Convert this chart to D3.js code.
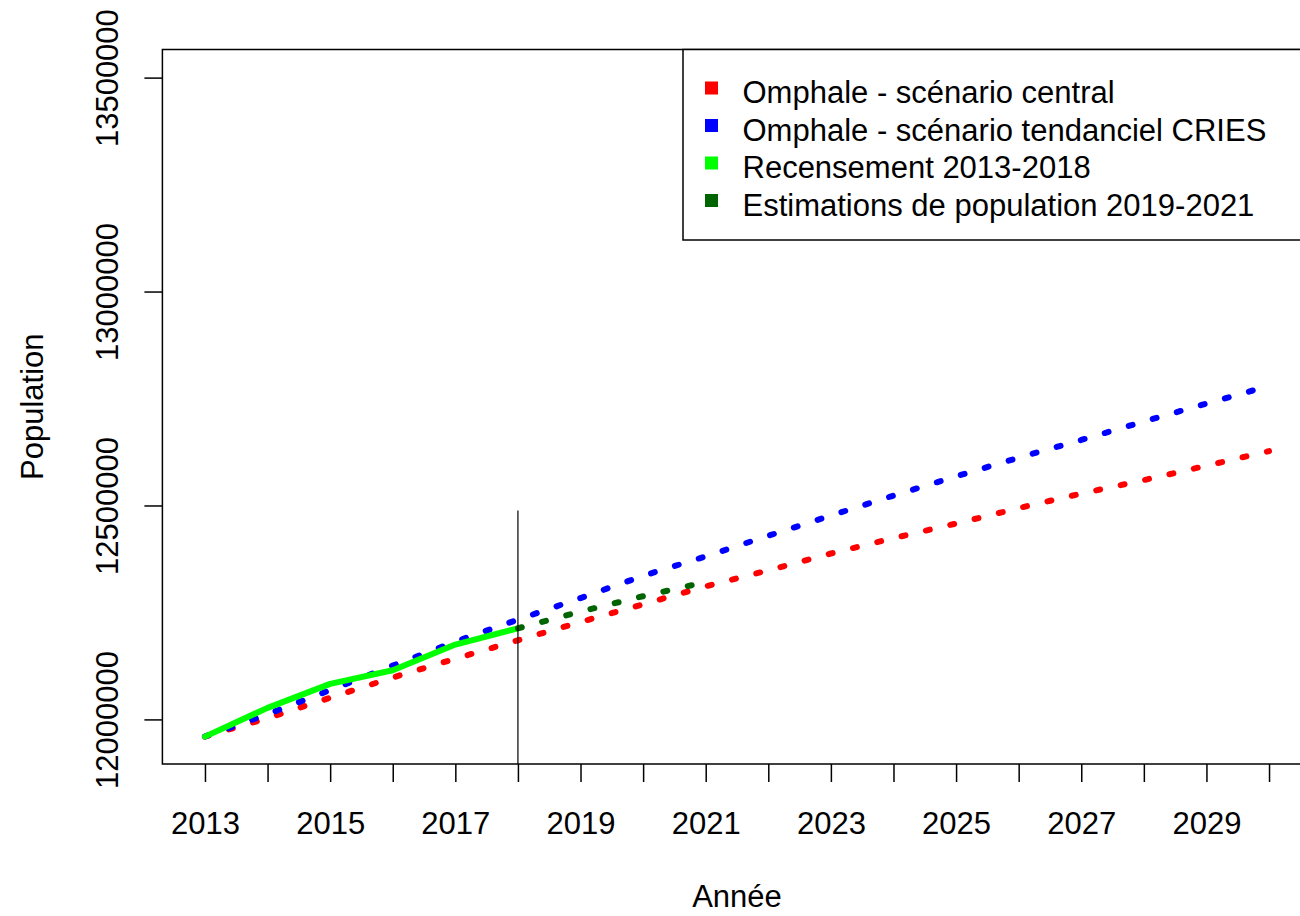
<!DOCTYPE html>
<html>
<head>
<meta charset="utf-8">
<script src="https://cdn.jsdelivr.net/npm/d3@7"></script>
<style>
body { margin: 0; background: #fff; }
svg { display: block; font-family: "Liberation Sans", Arial, sans-serif; }
</style>
</head>
<body>
<svg width="1300" height="916"></svg>
<script>
// data
const years = [2013, 2014, 2015, 2016, 2017, 2018, 2019, 2020, 2021,
               2022, 2023, 2024, 2025, 2026, 2027, 2028, 2029, 2030];
const central = [11960000, 12003000, 12050500, 12098000, 12141800, 12185000, 12227600, 12269100, 12311000,
                 12348400, 12387800, 12423800, 12457700, 12493900, 12527800, 12559300, 12593000, 12627100];
const tendanciel = [11960000, 12012100, 12068500, 12125700, 12181800, 12233200, 12283600, 12335700, 12381100,
                    12429200, 12476400, 12523100, 12568000, 12611700, 12653200, 12696200, 12738300, 12779400];
const censusYears = [2013, 2014, 2015, 2016, 2017, 2018];
const census = [11959800, 12027000, 12083000, 12115000, 12175000, 12213000];
const estimYears = [2018, 2019, 2020, 2021];
const estimations = [12213000, 12252000, 12288000, 12321000];
const cutYear = 2018, cutTop = 12488000;

const yTicks = [12000000, 12500000, 13000000, 13500000];
const xLabels = [2013, 2015, 2017, 2019, 2021, 2023, 2025, 2027, 2029];

const legendLabels = ["Omphale - scénario central", "Omphale - scénario tendanciel CRIES",
                      "Recensement 2013-2018", "Estimations de population 2019-2021"];
const legendColors = ["#ff0000", "#0000ff", "#00ff00", "#006400"];

const svg = d3.select("svg");
const plot = {left: 162.4, right: 1311.6, top: 49.5, bottom: 764};

const x = d3.scaleLinear().domain([2012.32, 2030.68]).range([plot.left, plot.right]);
const y = d3.scaleLinear().domain([11895800, 13565700]).range([plot.bottom, plot.top]);

svg.append("clipPath").attr("id", "clip")
  .append("rect")
    .attr("x", plot.left).attr("y", plot.top)
    .attr("width", plot.right - plot.left).attr("height", plot.bottom - plot.top);

const line = d3.line().x(d => x(d[0])).y(d => y(d[1]));
const g = svg.append("g").attr("clip-path", "url(#clip)");

const series = [
  {pts: years.map((yr, i) => [yr, central[i]]), color: legendColors[0], dotted: true},
  {pts: years.map((yr, i) => [yr, tendanciel[i]]), color: legendColors[1], dotted: true},
  {pts: censusYears.map((yr, i) => [yr, census[i]]), color: legendColors[2], dotted: false},
  {pts: estimYears.map((yr, i) => [yr, estimations[i]]), color: legendColors[3], dotted: true}
];

g.selectAll(".serie")
  .data(series)
  .join("path")
    .attr("class", "serie")
    .attr("d", d => line(d.pts))
    .attr("fill", "none")
    .attr("stroke", d => d.color)
    .attr("stroke-width", 6)
    .attr("stroke-linecap", "round")
    .attr("stroke-linejoin", "round")
    .attr("stroke-dasharray", d => d.dotted ? "4,21" : null);

// vertical marker at 2018
g.append("line")
  .attr("x1", x(cutYear)).attr("x2", x(cutYear))
  .attr("y1", y(cutTop)).attr("y2", plot.bottom)
  .attr("stroke", "#000").attr("stroke-width", 1.2);

// axes
const xAxis = svg.append("g")
  .attr("transform", `translate(0,${plot.bottom})`)
  .call(d3.axisBottom(x).tickValues(years).tickSize(18)
    .tickFormat(d => xLabels.includes(d) ? String(d) : ""));
xAxis.select(".domain").remove();
xAxis.selectAll("line").attr("stroke", "#000").attr("stroke-width", 1.5);
xAxis.selectAll("text")
  .attr("y", 70).attr("dy", 0)
  .attr("fill", "#000").attr("font-size", 31)
  .attr("font-family", "Liberation Sans, Arial, sans-serif");

const yAxis = svg.append("g")
  .attr("transform", `translate(${plot.left},0)`)
  .call(d3.axisLeft(y).tickValues(yTicks).tickSize(18).tickFormat(d => String(d)));
yAxis.select(".domain").remove();
yAxis.selectAll("line").attr("stroke", "#000").attr("stroke-width", 1.5);
yAxis.selectAll("text")
  .attr("x", 0).attr("dy", 0)
  .attr("transform", "translate(-44,0) rotate(-90)")
  .attr("text-anchor", "middle")
  .attr("fill", "#000").attr("font-size", 31)
  .attr("font-family", "Liberation Sans, Arial, sans-serif");

// box
svg.append("rect")
  .attr("x", plot.left).attr("y", plot.top)
  .attr("width", plot.right - plot.left).attr("height", plot.bottom - plot.top)
  .attr("fill", "none").attr("stroke", "#000").attr("stroke-width", 1.5);

// titles
svg.append("text")
  .attr("x", (plot.left + plot.right) / 2).attr("y", 907)
  .attr("text-anchor", "middle").attr("font-size", 31)
  .text("Année");

svg.append("text")
  .attr("transform", `translate(43,${(plot.top + plot.bottom) / 2}) rotate(-90)`)
  .attr("text-anchor", "middle").attr("font-size", 31)
  .text("Population");

// legend
const legend = svg.append("g");
legend.append("rect")
  .attr("x", 683).attr("y", plot.top)
  .attr("width", plot.right - 683).attr("height", 240 - plot.top)
  .attr("fill", "#fff").attr("stroke", "#000").attr("stroke-width", 1.5);

const item = legend.selectAll(".item")
  .data(legendLabels)
  .join("g")
    .attr("class", "item")
    .attr("transform", (d, i) => `translate(0,${88 + i * 37.5})`);

item.append("rect")
  .attr("x", 705).attr("y", -6.5)
  .attr("width", 13).attr("height", 13)
  .attr("fill", (d, i) => legendColors[i]);

item.append("text")
  .attr("x", 742.5).attr("y", 15)
  .attr("font-size", 31)
  .text(d => d);
</script>
</body>
</html>
